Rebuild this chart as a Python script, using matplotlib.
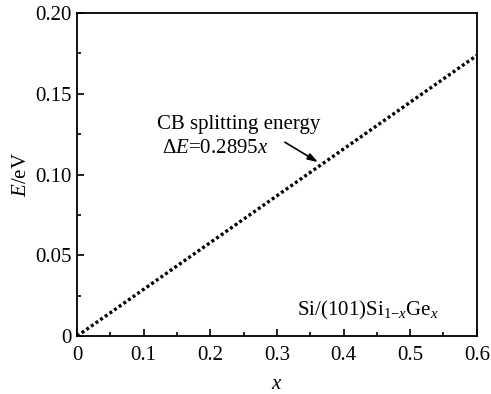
import matplotlib
matplotlib.use("agg")
import matplotlib.pyplot as plt
from matplotlib.ticker import MultipleLocator, FuncFormatter

plt.rcParams["font.family"] = ["Liberation Serif", "DejaVu Serif"]
plt.rcParams["mathtext.fontset"] = "custom"
plt.rcParams["mathtext.rm"] = "Liberation Serif"
plt.rcParams["mathtext.it"] = "Liberation Serif:italic"

# CB splitting energy, dE = 0.2895 x, end points
x_vals = [0.0, 0.6]
e_vals = [0.0, 0.1737]
x_ticks = [0, 0.1, 0.2, 0.3, 0.4, 0.5, 0.6]
y_ticks = [0, 0.05, 0.10, 0.15, 0.20]

FS = 15

fig = plt.figure(figsize=(4.91, 3.94), dpi=100)
ax = fig.add_axes([0.157, 0.147, 0.814, 0.820])

ax.plot(x_vals, e_vals, color="black", lw=2.4, linestyle=(0, (0.9, 0.8)),
        dash_capstyle="butt")

ax.set_xlim(0, 0.6)
ax.set_ylim(0, 0.2)
ax.set_xticks(x_ticks)
ax.set_yticks(y_ticks)
ax.xaxis.set_minor_locator(MultipleLocator(0.05))
ax.yaxis.set_minor_locator(MultipleLocator(0.025))
ax.xaxis.set_major_formatter(FuncFormatter(lambda v, p: "0" if v == 0 else f"{v:g}"))
ax.yaxis.set_major_formatter(FuncFormatter(lambda v, p: "0" if v == 0 else f"{v:.2f}"))
ax.tick_params(which="both", direction="in", labelsize=FS, width=1.2)
ax.tick_params(which="major", length=5)
ax.tick_params(which="minor", length=3)
ax.tick_params(axis="x", pad=7)
ax.tick_params(axis="y", pad=4)
for s in ax.spines.values():
    s.set_linewidth(1.3)

ax.set_xlabel("$x$", fontsize=FS, labelpad=7)
ax.set_ylabel("$E$/eV", fontsize=FS, labelpad=3)

ax.text(0.12, 0.1307, "CB splitting energy", fontsize=FS, va="center", ha="left")
ax.text(0.1275, 0.1164, r"$\Delta E$=0.2895$x$", fontsize=FS, va="center", ha="left")
ax.annotate("", xy=(0.3615, 0.1077), xytext=(0.312, 0.120),
            arrowprops=dict(arrowstyle="-|>,head_length=0.6,head_width=0.2",
                            color="black", lw=1.2,
                            mutation_scale=10, shrinkA=0, shrinkB=0))
ax.text(0.543, 0.016, r"Si/(101)Si$_{1\mathrm{-}x}$Ge$_x$", fontsize=FS,
        va="center", ha="right")

fig.savefig("out.png", dpi=100, facecolor="white")
